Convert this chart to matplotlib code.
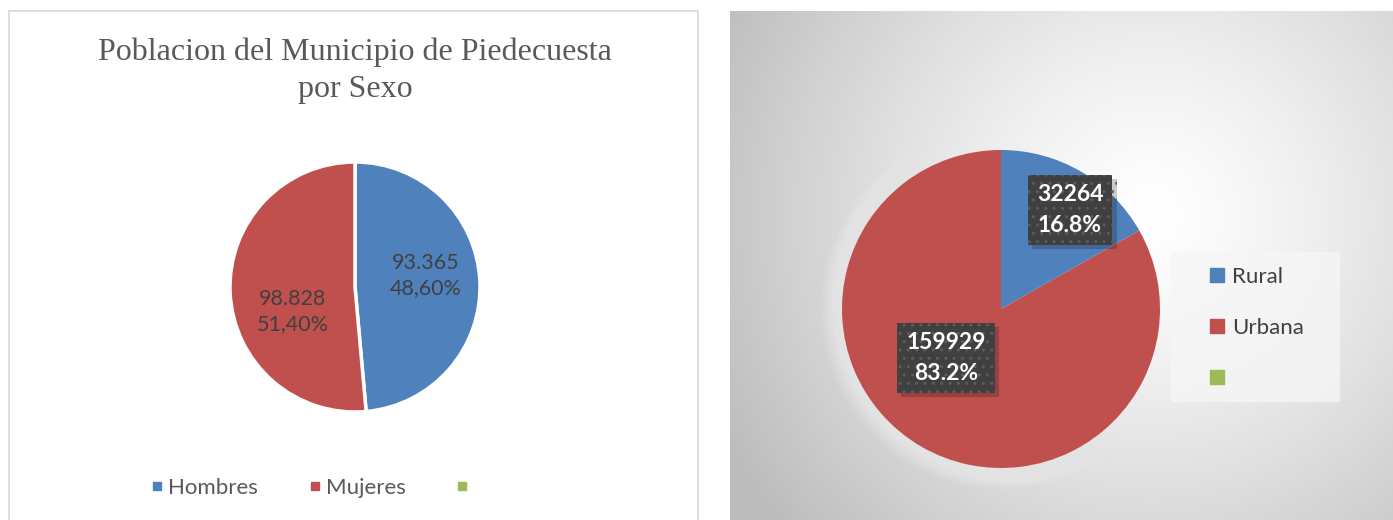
import numpy as np
import matplotlib
matplotlib.use("Agg")
from matplotlib import pyplot as plt
from matplotlib.patches import Rectangle, Circle
from matplotlib.lines import Line2D
from matplotlib import patheffects as pe

# Data
sexo_labels = ["Hombres", "Mujeres", ""]
sexo_values = [93365, 98828]
sexo_pct = [48.60, 51.40]

zona_labels = ["Rural", "Urbana", ""]
zona_values = [32264, 159929]

colors = ["#4f81bd", "#c0504d", "#9bbb59"]

W, H = 1393, 520
fig = plt.figure(figsize=(W / 100, H / 100), dpi=100)
fig.patch.set_facecolor("white")


def px_axes(x, y, w, h, **kw):
    # pixel box (top-left origin) -> figure axes
    return fig.add_axes([x / W, 1 - (y + h) / H, w / W, h / H], **kw)


body_font = ["Lato", "DejaVu Sans"]

# ---------------- Left panel: white frame ----------------
fig.patches.append(Rectangle((9 / W, -0.05), 689 / W, 1 - 11 / H + 0.05,
                             transform=fig.transFigure, facecolor="white",
                             edgecolor="#d9d9d9", linewidth=1.2, zorder=-5))

fig.text(355 / W, 1 - 71 / H, "Poblacion del Municipio de Piedecuesta\npor Sexo",
         ha="center", va="center", fontsize=23, color="#595959",
         family="Liberation Serif", linespacing=1.36)

ax1 = px_axes(355 - 127, 287 - 127, 254, 254)
ax1.pie(sexo_values, colors=colors[:2], startangle=90, counterclock=False,
        radius=125 / 127, wedgeprops=dict(edgecolor="white", linewidth=2.5))
ax1.set_xlim(-1, 1)
ax1.set_ylim(-1, 1)
ax1.set_aspect("equal")
ax1.axis("off")

# label positions (pie axes coords)
sexo_label_xy = [(0.56, 0.09), (-0.49, -0.19)]
for v, p, (lx, ly) in zip(sexo_values, sexo_pct, sexo_label_xy):
    txt = f"{v:,}".replace(",", ".") + "\n" + f"{p:.2f}".replace(".", ",") + "%"
    ax1.text(lx, ly, txt, ha="center", va="center", fontsize=15.5,
             color="#404040", family=body_font, linespacing=1.32)

handles = [Line2D([], [], marker="s", linestyle="none", markersize=6,
                  markerfacecolor=c, markeredgecolor=c) for c in colors]
fig.legend(handles, sexo_labels, loc="center", bbox_to_anchor=(312 / W, 1 - 488 / H),
           ncol=3, frameon=False, handlelength=0.6, handletextpad=0.2,
           columnspacing=2.25, labelcolor="#595959", prop=dict(family=body_font, size=16))

# ---------------- Right panel: gradient background ----------------
bx, by, bw, bh = 730, 11, 663, 509
axbg = px_axes(bx, by, bw, bh)
xx, yy = np.meshgrid(np.arange(bw), np.arange(bh))
dist = np.hypot(xx + bx - 1150, yy + by - 215)
shade = 1.0 - 0.26 * np.clip(dist / 480, 0, 1) ** 1.3
axbg.imshow(np.dstack([shade] * 3), extent=(0, bw, bh, 0), aspect="auto")
axbg.axis("off")

ax2 = px_axes(1001 - 185, 309 - 185, 370, 370)
# soft glow around the pie
for k in range(20):
    ax2.add_patch(Circle((0, 0), 159 + 1 + k * 1.1, facecolor="white",
                         edgecolor="none", alpha=0.035, zorder=0))
ax2.pie(zona_values, colors=colors[:2], startangle=90, counterclock=False,
        radius=159, wedgeprops=dict(edgecolor="none"), frame=False)
ax2.set_xlim(-185, 185)
ax2.set_ylim(-185, 185)
ax2.set_aspect("equal")
ax2.axis("off")

total = sum(zona_values)
zona_label_xy = [(69, 99), (-55, -49)]
for v, (lx, ly) in zip(zona_values, zona_label_xy):
    txt = f"{v}\n{100 * v / total:.1f}%"
    t = ax2.text(lx, ly, txt, ha="center", va="center", fontsize=16.5,
                 fontweight="bold", color="white", family=body_font, linespacing=1.6,
                 bbox=dict(boxstyle="square,pad=0.4", facecolor="#404040",
                           edgecolor="#5c5c5c", linewidth=0, hatch=".."))
    t.get_bbox_patch().set_path_effects([
        pe.SimplePatchShadow(offset=(3, -3), shadow_rgbFace="black", alpha=0.2),
        pe.Normal()])

# legend box
fig.patches.append(Rectangle((1171 / W, 1 - 402 / H), 169 / W, 150 / H,
                             transform=fig.transFigure, facecolor="#f6f6f6",
                             edgecolor="none", alpha=0.8))
handles2 = [Line2D([], [], marker="s", linestyle="none", markersize=10.5,
                   markerfacecolor=c, markeredgecolor=c) for c in colors]
fig.legend(handles2, zona_labels, loc="upper left", bbox_to_anchor=(1209 / W, 1 - 267 / H),
           ncol=1, frameon=False, handlelength=0.75, handletextpad=0.3,
           labelspacing=1.38, labelcolor="#404040", prop=dict(family=body_font, size=16),
           borderpad=0, borderaxespad=0)

fig.savefig("out.png", dpi=100)
